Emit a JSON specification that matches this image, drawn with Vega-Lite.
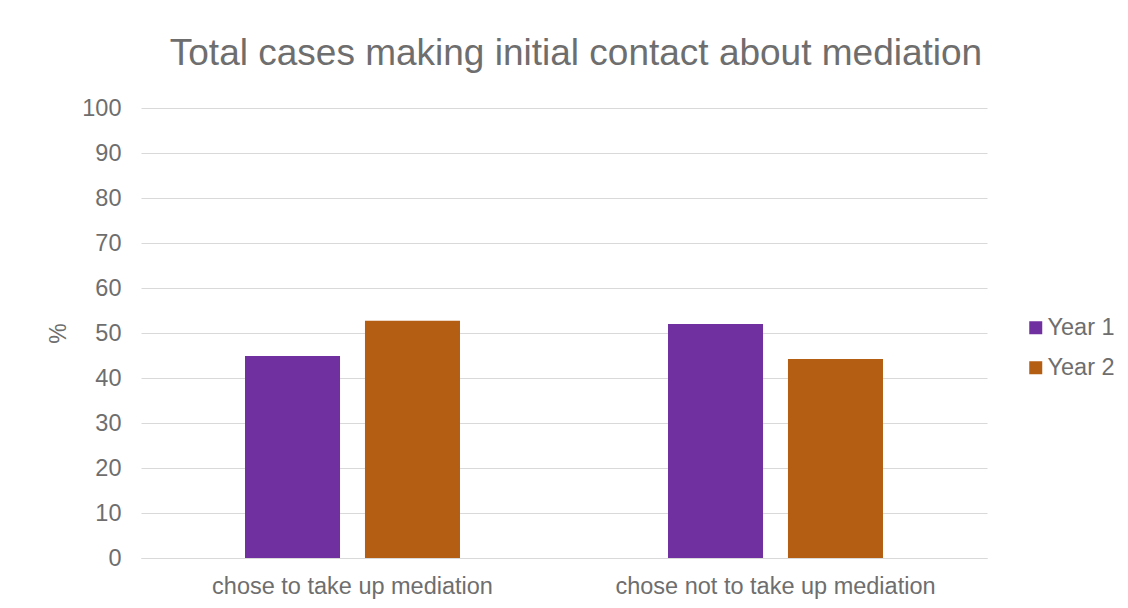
{
  "$schema": "https://vega.github.io/schema/vega-lite/v6.json",
  "autosize": {"type": "none"},
  "padding": {"left": 141, "top": 108, "right": 141, "bottom": 50},
  "width": 846,
  "height": 450,
  "background": "white",
  "title": {
    "text": "Total cases making initial contact about mediation",
    "font": "Liberation Sans",
    "fontSize": 37,
    "fontWeight": "normal",
    "color": "#6E6E6E",
    "anchor": "middle",
    "offset": 23,
    "dx": 12
  },
  "data": {
    "values": [
      {"category": "chose to take up mediation", "year": "Year 1", "value": 44.9},
      {"category": "chose to take up mediation", "year": "Year 2", "value": 52.7},
      {"category": "chose not to take up mediation", "year": "Year 1", "value": 52.0},
      {"category": "chose not to take up mediation", "year": "Year 2", "value": 44.2}
    ]
  },
  "mark": {"type": "bar"},
  "encoding": {
    "x": {
      "field": "category",
      "type": "nominal",
      "sort": null,
      "title": null,
      "scale": {"paddingInner": 0, "paddingOuter": 0},
      "axis": {
        "labelAngle": 0,
        "labelFont": "Liberation Sans",
        "labelFontSize": 23.5,
        "labelColor": "#6E6E6E",
        "labelPadding": 16,
        "labelLimit": 0,
        "ticks": false,
        "domainColor": "#D9D9D9",
        "grid": false
      }
    },
    "xOffset": {
      "field": "year",
      "type": "nominal",
      "scale": {"paddingInner": 0.208, "paddingOuter": 0.867}
    },
    "y": {
      "field": "value",
      "type": "quantitative",
      "title": "%",
      "scale": {"domain": [0, 100]},
      "axis": {
        "values": [0, 10, 20, 30, 40, 50, 60, 70, 80, 90, 100],
        "labelFont": "Liberation Sans",
        "labelFontSize": 23.5,
        "labelColor": "#6E6E6E",
        "labelPadding": 20,
        "ticks": false,
        "domain": false,
        "gridColor": "#D9D9D9",
        "titleFont": "Liberation Sans",
        "titleFontSize": 23,
        "titleFontWeight": "normal",
        "titleColor": "#6E6E6E",
        "titleX": -83,
        "titleY": 225,
        "titleAlign": "center",
        "titleBaseline": "middle"
      }
    },
    "color": {
      "field": "year",
      "type": "nominal",
      "title": null,
      "scale": {"domain": ["Year 1", "Year 2"], "range": ["#7030A0", "#B35E12"]},
      "legend": {
        "orient": "none",
        "legendX": 883,
        "legendY": 208,
        "symbolType": "square",
        "symbolSize": 169,
        "symbolStrokeWidth": 0,
        "labelFont": "Liberation Sans",
        "labelFontSize": 23.5,
        "labelColor": "#6E6E6E",
        "labelOffset": 0,
        "rowPadding": 15
      }
    }
  },
  "config": {"view": {"stroke": null}}
}
